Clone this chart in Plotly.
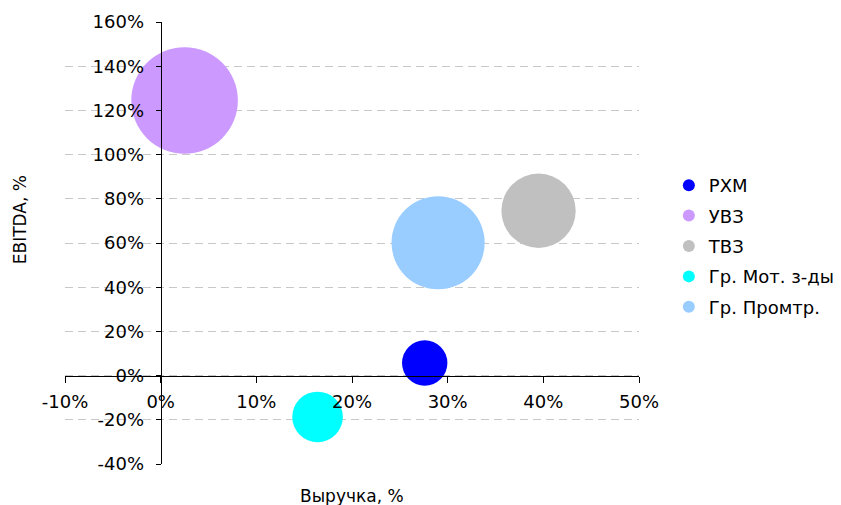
import plotly.graph_objects as go

# Data (percent)
names = ["РХМ", "УВЗ", "ТВЗ", "Гр. Мот. з-ды", "Гр. Промтр."]
revenue = [27.6, 2.5, 39.5, 16.4, 29.0]      # Выручка, %
ebitda = [5.7, 124.5, 74.6, -18.7, 60.1]     # EBITDA, %
bubble = [5.15, 28.4, 13.8, 6.4, 21.7]       # bubble size (area)
colors = ["#0000FF", "#CC99FF", "#C0C0C0", "#00FFFF", "#99CCFF"]

x_ticks = [-10, 0, 10, 20, 30, 40, 50]
x_ticklabels = ["-10%", "0%", "10%", "20%", "30%", "40%", "50%"]
y_ticks = [-40, -20, 0, 20, 40, 60, 80, 100, 120, 140, 160]
y_ticklabels = ["-40%", "-20%", "0%", "20%", "40%", "60%", "80%", "100%", "120%", "140%", "160%"]

FONT = "DejaVu Sans, Verdana, sans-serif"
FS = 18

fig = go.Figure()
for i, n in enumerate(names):
    fig.add_trace(go.Scatter(
        x=[revenue[i]], y=[ebitda[i]], mode="markers", name=n,
        legendgroup=n,
        marker=dict(size=[bubble[i]], sizemode="area", sizeref=1 / 200,
                    color=colors[i], line=dict(width=0), opacity=1),
        hoverinfo="name+x+y",
    ))

fig.update_layout(
    width=841, height=505,
    margin=dict(l=65, r=202, t=22, b=41, autoexpand=False),
    paper_bgcolor="white", plot_bgcolor="white",
    font=dict(family=FONT, size=FS, color="black"),
    showlegend=True,
    legend=dict(x=1.052, y=0.672, xanchor="left", yanchor="top",
                itemsizing="constant", tracegroupgap=4,
                font=dict(family=FONT, size=FS, color="black"),
                bgcolor="rgba(0,0,0,0)"),
    xaxis=dict(range=[-10, 50], tickvals=x_ticks, ticktext=x_ticklabels,
               showgrid=False, zeroline=False, showline=True,
               linecolor="black", linewidth=1, ticks="outside", ticklen=6,
               tickcolor="black", anchor="free", position=0.2,
               ticklabelstandoff=4,
               automargin=False, fixedrange=True),
    yaxis=dict(range=[-40, 160], tickvals=y_ticks, ticktext=y_ticklabels,
               showgrid=True, gridcolor="#C8C8C8", gridwidth=1,
               griddash="8px,5px", zeroline=False, showline=True,
               linecolor="black", linewidth=1, ticks="outside", ticklen=5,
               tickcolor="black", anchor="free", position=1 / 6,
               ticklabelstandoff=8,
               automargin=False, fixedrange=True),
    annotations=[
        dict(text="EBITDA, %", xref="paper", yref="paper", x=-0.078, y=0.552,
             xanchor="center", yanchor="middle", textangle=-90,
             showarrow=False, font=dict(family=FONT, size=17, color="black")),
        dict(text="Выручка, %", xref="paper", yref="paper", x=0.5, y=-0.072,
             xanchor="center", yanchor="middle",
             showarrow=False, font=dict(family=FONT, size=17, color="black")),
    ],
)

fig.write_html("out.html")
